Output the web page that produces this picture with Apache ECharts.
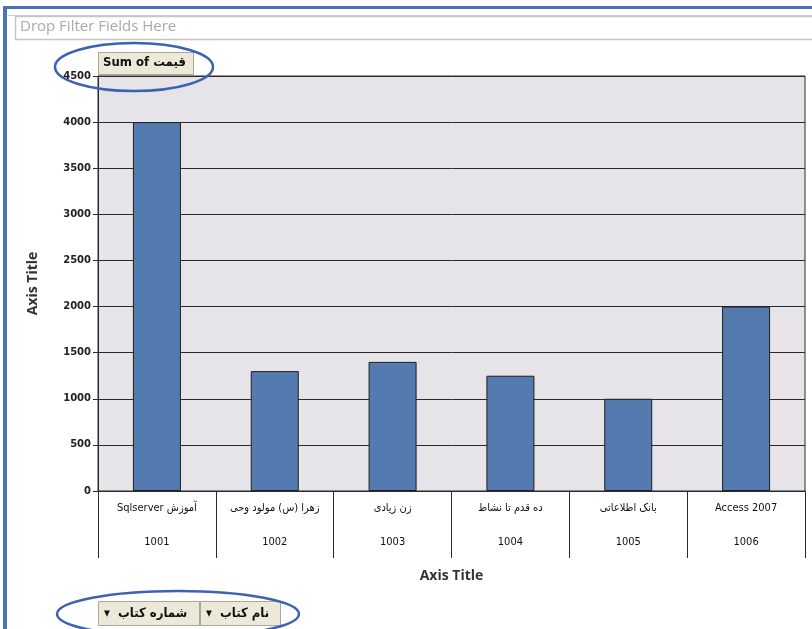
<!DOCTYPE html>
<html>
<head>
<meta charset="utf-8">
<script src="https://cdn.jsdelivr.net/npm/echarts@6/dist/echarts.min.js"></script>
<style>
  html, body { margin: 0; padding: 0; background: #fff; }
  #chart { width: 812px; height: 629px; }
</style>
</head>
<body>
<div id="chart"></div>
<script>
// داده ها
const bookNames = [
  'Sqlserver آموزش',
  'زهرا (س) مولود وحی',
  'زن زیادی',
  'ده قدم تا نشاط',
  'بانک اطلاعاتی',
  'Access 2007',
];
const bookIds = ['1001', '1002', '1003', '1004', '1005', '1006'];
const prices = [4000, 1300, 1400, 1250, 1000, 2000];

const chart = echarts.init(document.getElementById('chart'));
const labelFont = "'DejaVu Sans Condensed', 'DejaVu Sans', sans-serif";
const titleFont = "'Open Sans', 'Liberation Sans', sans-serif";
const btnFont = "bold 13px 'DejaVu Sans Condensed', 'DejaVu Sans', sans-serif";
const lineColor = '#2b2b2b';
const ovalColor = '#3d62b3';
const btnFill = '#ece9d8';
const btnBorder = '#aca899';

const option = {
  backgroundColor: '#fff',
  animation: false,
  grid: {
    left: 98,
    right: 7,
    top: 76,
    bottom: 138,
    show: true,
    backgroundColor: '#e6e4e8',
    borderColor: lineColor,
    borderWidth: 1,
  },
  xAxis: {
    type: 'category',
    data: bookNames,
    name: 'Axis Title',
    nameLocation: 'middle',
    nameGap: 78,
    nameTextStyle: { fontFamily: titleFont, fontWeight: 'bold', fontSize: 14, color: '#333' },
    axisLine: { lineStyle: { color: lineColor } },
    axisTick: { show: true, length: 67, alignWithLabel: false, lineStyle: { color: lineColor } },
    axisLabel: {
      margin: 0,
      interval: 0,
      formatter: (v, i) => `{n|${v}}\n{id|${bookIds[i]}}`,
      rich: {
        n: { fontFamily: labelFont, fontSize: 11, color: '#111', lineHeight: 34, height: 34 },
        id: { fontFamily: labelFont, fontSize: 11, color: '#111', lineHeight: 34, height: 34 },
      },
    },
  },
  yAxis: {
    type: 'value',
    min: 0,
    max: 4500,
    interval: 500,
    name: 'Axis Title',
    nameLocation: 'middle',
    nameGap: 58,
    nameRotate: 90,
    nameTextStyle: { fontFamily: titleFont, fontWeight: 'bold', fontSize: 14, color: '#333' },
    axisLine: { show: true, lineStyle: { color: lineColor } },
    axisTick: { show: true, length: 5, lineStyle: { color: lineColor } },
    axisLabel: {
      fontFamily: "'DejaVu Sans', sans-serif",
      fontWeight: 'bold',
      fontSize: 10,
      color: '#222',
      margin: 7,
      formatter: (v) => String(v),
    },
    splitLine: { lineStyle: { color: lineColor, width: 1 } },
  },
  series: [
    {
      type: 'bar',
      data: prices,
      barWidth: 48,
      itemStyle: { color: '#547bb0', borderColor: '#1e1e1e', borderWidth: 1 },
    },
  ],
  graphic: [
    // قاب بیرونی
    { type: 'rect', shape: { x: 3, y: 6, width: 812, height: 3 }, style: { fill: '#4a72b8' }, silent: true },
    { type: 'rect', shape: { x: 3, y: 6, width: 4, height: 629 }, style: { fill: '#4a72b8' }, silent: true },
    { type: 'line', shape: { x1: 8, y1: 15.5, x2: 812, y2: 15.5 }, style: { stroke: '#cfcfc8', lineWidth: 1 }, silent: true },
    {
      type: 'rect',
      shape: { x: 15.5, y: 16.5, width: 800, height: 23 },
      style: { fill: '#fff', stroke: '#c6c6bd', lineWidth: 1.5 },
      silent: true,
    },
    {
      type: 'text',
      left: 20,
      top: 19,
      style: {
        text: 'Drop Filter Fields Here',
        font: "15px 'Liberation Sans Narrow', 'Open Sans', sans-serif",
        fill: '#aaa',
      },
      silent: true,
    },
    // دکمه Sum of
    {
      type: 'rect',
      shape: { x: 98.5, y: 52.5, width: 95, height: 22 },
      style: { fill: btnFill, stroke: btnBorder, lineWidth: 1 },
      z: 20,
    },
    {
      type: 'text',
      left: 103,
      top: 56,
      z: 21,
      style: { text: 'Sum of قیمت', font: btnFont, fill: '#111' },
    },
    // دکمه های پایین
    {
      type: 'rect',
      shape: { x: 98.5, y: 601.5, width: 101, height: 24 },
      style: { fill: btnFill, stroke: btnBorder, lineWidth: 1 },
      z: 20,
    },
    {
      type: 'text',
      left: 104,
      top: 607,
      z: 21,
      style: { text: '▾  شماره کتاب', font: btnFont, fill: '#111' },
    },
    {
      type: 'rect',
      shape: { x: 200.5, y: 601.5, width: 80, height: 24 },
      style: { fill: btnFill, stroke: btnBorder, lineWidth: 1 },
      z: 20,
    },
    {
      type: 'text',
      left: 206,
      top: 607,
      z: 21,
      style: { text: '▾  نام کتاب', font: btnFont, fill: '#111' },
    },
    // بیضی ها
    {
      type: 'ellipse',
      shape: { cx: 134, cy: 67, rx: 79, ry: 24 },
      style: { fill: 'none', stroke: ovalColor, lineWidth: 2.5 },
      z: 30,
    },
    {
      type: 'ellipse',
      shape: { cx: 178, cy: 614, rx: 121, ry: 23 },
      style: { fill: 'none', stroke: ovalColor, lineWidth: 2.5 },
      z: 30,
    },
  ],
};

chart.setOption(option);
window.addEventListener('resize', () => chart.resize());
</script>
</body>
</html>
